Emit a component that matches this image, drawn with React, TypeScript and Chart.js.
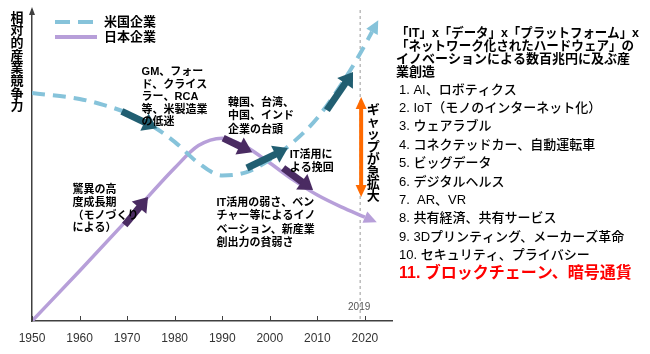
import { useEffect, useRef } from 'react';
import { Chart, registerables } from 'chart.js';

Chart.register(...registerables);

const FONT = "'Liberation Sans', 'Noto Sans CJK JP', sans-serif";

// ---- data ----
const TICK_YEARS = [1950, 1960, 1970, 1980, 1990, 2000, 2010, 2020];
const X_MIN = 1950;
const X_MAX = 2025.7;

const US_YEARS = [1950, 1960, 1965, 1970, 1975, 1980, 1985, 1990, 1995, 2000, 2005, 2010, 2015, 2019, 2021.5];
const US_VALUES = [73.3, 71.4, 69.5, 66.9, 63.0, 57.6, 50.8, 46.8, 47.8, 51.8, 57.6, 65.3, 76.0, 86.0, 93.0];

const JP_YEARS = [1950, 1960, 1970, 1980, 1985, 1990, 1995, 2000, 2005, 2010, 2015, 2020];
const JP_VALUES = [0, 16.1, 32.5, 49.2, 56.4, 58.8, 56.0, 50.8, 45.3, 40.5, 36.7, 33.4];

const SERIES_LABELS = ['米国企業', '日本企業'];
const Y_TITLE = '相対的産業競争力';

// emphasis arrows [fromYear, fromValue, toYear, toValue]
const US_ARROWS = [
  [1968.9, 67.4, 1976.3, 62.0],
  [1995.2, 49.2, 2003.8, 55.6],
  [2012.0, 67.8, 2017.5, 80.1],
];
const JP_ARROWS = [
  [1969.5, 30.9, 1974.4, 39.9],
  [1990.2, 58.8, 1996.3, 54.3],
  [2002.8, 49.2, 2009.1, 42.1],
];

const MARKER_YEAR = 2019;
const GAP_RANGE = [39.9, 72.0];
const GAP_LABEL = 'ギャップが急拡大';

const NOTE_GM = ['GM、フォー', 'ド、クライス', 'ラー、RCA', '等、米製造業', 'の低迷'];
const NOTE_ASIA = ['韓国、台湾、', '中国、インド', '企業の台頭'];
const NOTE_IT = ['IT活用に', 'よる挽回'];
const NOTE_GROWTH = ['驚異の高', '度成長期', '（モノづくり', 'による）'];
const NOTE_WEAK = ['IT活用の弱さ、ベン', 'チャー等によるイノ', 'ベーション、新産業', '創出力の貧弱さ'];

const HEADLINE = [
  '「IT」x「データ」x「プラットフォーム」x',
  '「ネットワーク化されたハードウェア」の',
  'イノベーションによる数百兆円に及ぶ産',
  '業創造',
];
const LIST_ITEMS = [
  '1. AI、ロボティクス',
  '2. IoT（モノのインターネット化）',
  '3. ウェアラブル',
  '4. コネクテッドカー、自動運転車',
  '5. ビッグデータ',
  '6. デジタルヘルス',
  '7.  AR、VR',
  '8. 共有経済、共有サービス',
  '9. 3Dプリンティング、メーカーズ革命',
  '10. セキュリティ、プライバシー',
];
const HIGHLIGHT_ITEM = '11. ブロックチェーン、暗号通貨';

// ---- colors ----
const US_COLOR = '#86C3DA';
const JP_COLOR = '#B79FD9';
const US_DARK = '#215E71';
const JP_DARK = '#4A2B62';
const GAP_COLOR = '#FF6A00';

function arrow(ctx: CanvasRenderingContext2D, x1: number, y1: number, x2: number, y2: number,
  color: string, shaft: number, headW: number, headL: number) {
  const a = Math.atan2(y2 - y1, x2 - x1);
  const c = Math.cos(a), s = Math.sin(a);
  const bx = x2 - headL * c, by = y2 - headL * s;
  ctx.save();
  ctx.strokeStyle = color;
  ctx.fillStyle = color;
  ctx.lineWidth = shaft;
  ctx.lineCap = 'butt';
  ctx.setLineDash([]);
  ctx.beginPath();
  ctx.moveTo(x1, y1);
  ctx.lineTo(bx + c, by + s);
  ctx.stroke();
  ctx.beginPath();
  ctx.moveTo(x2, y2);
  ctx.lineTo(bx - (headW / 2) * s, by + (headW / 2) * c);
  ctx.lineTo(bx + (headW / 2) * s, by - (headW / 2) * c);
  ctx.closePath();
  ctx.fill();
  ctx.restore();
}

function head(ctx: CanvasRenderingContext2D, x1: number, y1: number, x2: number, y2: number,
  color: string, headW: number, headL: number) {
  const a = Math.atan2(y2 - y1, x2 - x1);
  const c = Math.cos(a), s = Math.sin(a);
  const tx = x2 + headL * c, ty = y2 + headL * s;
  ctx.save();
  ctx.fillStyle = color;
  ctx.beginPath();
  ctx.moveTo(tx, ty);
  ctx.lineTo(x2 - (headW / 2) * s, y2 + (headW / 2) * c);
  ctx.lineTo(x2 + (headW / 2) * s, y2 - (headW / 2) * c);
  ctx.closePath();
  ctx.fill();
  ctx.restore();
}

function lines(ctx: CanvasRenderingContext2D, arr: string[], x: number, y: number, step: number) {
  arr.forEach((t, i) => ctx.fillText(t, x, y + i * step));
}

const overlay = {
  id: 'overlay',
  beforeDatasetsDraw(chart: any) {
    const { ctx, scales, chartArea } = chart;
    const x = scales.x;
    const mx = x.getPixelForValue(MARKER_YEAR);
    ctx.save();
    ctx.strokeStyle = '#9a9a9a';
    ctx.lineWidth = 1;
    ctx.setLineDash([3, 3]);
    ctx.beginPath();
    ctx.moveTo(mx, chartArea.top);
    ctx.lineTo(mx, chartArea.bottom);
    ctx.stroke();
    ctx.restore();
  },
  afterDatasetsDraw(chart: any) {
    const { ctx, scales, chartArea } = chart;
    const x = scales.x, y = scales.y;
    const px = (v: number) => x.getPixelForValue(v);
    const py = (v: number) => y.getPixelForValue(v);

    // axis tick marks (inside) and y-axis arrow
    ctx.save();
    ctx.strokeStyle = '#404040';
    ctx.lineWidth = 1;
    TICK_YEARS.forEach((t) => {
      const tx = Math.round(px(t)) + 0.5;
      ctx.beginPath();
      ctx.moveTo(tx, chartArea.bottom);
      ctx.lineTo(tx, chartArea.bottom - 5);
      ctx.stroke();
    });
    ctx.fillStyle = '#404040';
    const ax = chartArea.left;
    ctx.beginPath();
    ctx.moveTo(ax, chartArea.top - 3);
    ctx.lineTo(ax - 3, chartArea.top + 5);
    ctx.lineTo(ax + 3, chartArea.top + 5);
    ctx.closePath();
    ctx.fill();
    ctx.restore();

    // end arrowheads for series
    const m0 = chart.getDatasetMeta(0).data;
    const m1 = chart.getDatasetMeta(1).data;
    const u1 = m0[m0.length - 2], u2 = m0[m0.length - 1];
    head(ctx, u1.x, u1.y, u2.x, u2.y, US_COLOR, 13, 13);
    const j1 = m1[m1.length - 2], j2 = m1[m1.length - 1];
    head(ctx, j1.x, j1.y, j2.x, j2.y, JP_COLOR, 12, 13);

    // emphasis arrows
    US_ARROWS.forEach((a) => arrow(ctx, px(a[0]), py(a[1]), px(a[2]), py(a[3]), US_DARK, 7, 19, 14));
    JP_ARROWS.forEach((a) => arrow(ctx, px(a[0]), py(a[1]), px(a[2]), py(a[3]), JP_DARK, 7, 19, 14));

    // gap arrow
    const gx = px(MARKER_YEAR) + 1;
    const gTop = py(GAP_RANGE[1]), gBot = py(GAP_RANGE[0]);
    const mid = (gTop + gBot) / 2;
    arrow(ctx, gx, mid, gx, gTop, GAP_COLOR, 4, 11, 12);
    arrow(ctx, gx, mid, gx, gBot, GAP_COLOR, 4, 11, 12);

    ctx.save();
    ctx.fillStyle = '#000';
    ctx.textBaseline = 'middle';
    ctx.textAlign = 'center';
    ctx.font = `bold 13px ${FONT}`;
    Array.from(GAP_LABEL).forEach((ch, i) => ctx.fillText(ch, gx + 12, gTop + 13 + i * 12.4));

    // marker year label
    ctx.font = `10px ${FONT}`;
    ctx.fillStyle = '#555';
    ctx.fillText(String(MARKER_YEAR), px(MARKER_YEAR) - 1, py(4.5));

    // y title
    ctx.fillStyle = '#000';
    ctx.font = `bold 13px ${FONT}`;
    Array.from(Y_TITLE).forEach((ch, i) => ctx.fillText(ch, chartArea.left - 15, 18 + i * 12.7));

    // notes
    ctx.textAlign = 'left';
    ctx.font = `bold 11px ${FONT}`;
    lines(ctx, NOTE_GM, px(1973.05), py(80.1), 12.6);
    lines(ctx, NOTE_ASIA, px(1991.2), py(70.1), 13.4);
    lines(ctx, NOTE_IT, px(2004.2), py(53.4), 13);
    lines(ctx, NOTE_GROWTH, px(1958.5), py(42.1), 12.7);
    lines(ctx, NOTE_WEAK, px(1988.8), py(37.9), 13.3);

    // legend
    const lx1 = chartArea.left + 23, lx2 = chartArea.left + 65;
    ctx.lineWidth = 4;
    ctx.strokeStyle = US_COLOR;
    ctx.setLineDash([15, 8]);
    ctx.beginPath(); ctx.moveTo(lx1, 22); ctx.lineTo(lx2, 22); ctx.stroke();
    ctx.setLineDash([]);
    ctx.strokeStyle = JP_COLOR;
    ctx.beginPath(); ctx.moveTo(lx1, 37); ctx.lineTo(lx2, 37); ctx.stroke();
    ctx.font = `bold 13px ${FONT}`;
    ctx.fillText(SERIES_LABELS[0], lx2 + 7, 22);
    ctx.fillText(SERIES_LABELS[1], lx2 + 7, 37);

    // right block
    const rx = chartArea.right + 4;
    ctx.font = `bold 13px ${FONT}`;
    const hw = [243, 238, 242, 60];
    HEADLINE.forEach((t, i) => ctx.fillText(t, rx, 33 + i * 13.3, hw[i]));
    ctx.font = `500 13px ${FONT}`;
    LIST_ITEMS.forEach((t, i) => ctx.fillText(t, rx + 3, 90 + i * 18.4));
    ctx.font = `bold 16px ${FONT}`;
    ctx.fillStyle = '#FF0000';
    ctx.fillText(HIGHLIGHT_ITEM, rx + 3, 90 + LIST_ITEMS.length * 18.4, 240);
    ctx.restore();
  },
};

export default function App() {
  const ref = useRef<HTMLCanvasElement | null>(null);
  useEffect(() => {
    if (!ref.current) return;
    const chart = new Chart(ref.current, {
      type: 'line',
      data: {
        datasets: [
          {
            label: SERIES_LABELS[0],
            data: US_YEARS.map((yr, i) => ({ x: yr, y: US_VALUES[i] })),
            borderColor: US_COLOR,
            borderWidth: 4,
            borderDash: [13, 8],
            pointRadius: 0,
            cubicInterpolationMode: 'monotone',
            fill: false,
          },
          {
            label: SERIES_LABELS[1],
            data: JP_YEARS.map((yr, i) => ({ x: yr, y: JP_VALUES[i] })),
            borderColor: JP_COLOR,
            borderWidth: 3.5,
            pointRadius: 0,
            cubicInterpolationMode: 'monotone',
            fill: false,
          },
        ],
      },
      options: {
        responsive: false,
        animation: false,
        devicePixelRatio: 1,
        layout: { padding: { left: 32, right: 258, top: 10, bottom: 0 } },
        plugins: { legend: { display: false }, tooltip: { enabled: false } },
        scales: {
          x: {
            type: 'linear',
            min: X_MIN,
            max: X_MAX,
            afterFit: (s: any) => { s.height = 33; },
            afterBuildTicks: (s: any) => { s.ticks = TICK_YEARS.map((v) => ({ value: v })); },
            grid: { display: false, drawTicks: false },
            border: { display: true, color: '#404040', width: 1.5 },
            ticks: {
              padding: 10,
              maxRotation: 0,
              autoSkip: false,
              color: '#333',
              font: { size: 12, family: FONT },
              callback: (v: any) => String(v),
            },
          },
          y: {
            min: 0,
            max: 100,
            afterFit: (s: any) => { s.width = 0; },
            grid: { display: false, drawTicks: false },
            border: { display: true, color: '#404040', width: 1.5 },
            ticks: { display: false },
          },
        },
      },
      plugins: [overlay],
    });
    return () => chart.destroy();
  }, []);
  return (
    <div style={{ position: 'absolute', left: 0, top: 0, width: 650, height: 354, background: '#fff' }}>
      <canvas ref={ref} width={650} height={354} />
    </div>
  );
}
